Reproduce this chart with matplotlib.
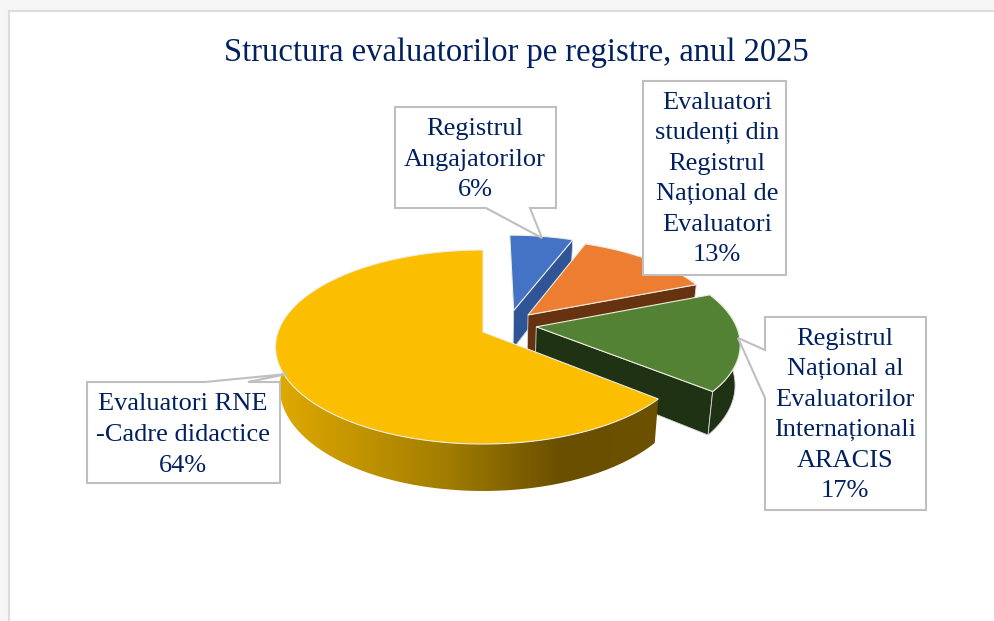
import numpy as np
import matplotlib
matplotlib.use('Agg')
import matplotlib.pyplot as plt
from matplotlib.colors import LinearSegmentedColormap
from matplotlib.patches import Polygon, Rectangle

plt.rcParams['font.family'] = ['Liberation Serif', 'DejaVu Serif']

title = 'Structura evaluatorilor pe registre, anul 2025'
# clockwise from 12 o'clock, like the source pie
names = ['Registrul\nAngajatorilor',
         'Evaluatori\nstudenți din\nRegistrul\nNațional de\nEvaluatori',
         'Registrul\nNațional al\nEvaluatorilor\nInternaționali\nARACIS',
         'Evaluatori RNE\n-Cadre didactice']
values = [6, 13, 17, 64]

top_colors = ['#4472C4', '#ED7D31', '#548235', '#FBBE00']
wall_colors = ['#2F5597', '#663210', '#203214', None]
explode = [(0.155, 0.235), (0.226, 0.185), (0.262, 0.055), (0.0, 0.0)]
radius = [0.98, 0.97, 0.985, 1.0]

NAVY = '#002060'
BOX = '#BFBFBF'

# projection of the tilted pie, in picture pixels
cx, cy = 483, 332
rx, ry = 205, 94.7
persp = 0.1547
depth = 39.7


def project(u, v, bottom=False):
    s = 1 / (1 + persp * v)
    x = cx + rx * u * s
    y = cy - ry * v * s
    if bottom:
        x = cx + (x - cx) * 0.98
        y = y + depth * s
    return np.column_stack([x, y])


fig = plt.figure(figsize=(9.95, 6.21), dpi=100, facecolor='#F6F6F6')
ax = fig.add_axes([0, 0, 1, 1])
ax.set_axis_off()

ax.add_patch(Rectangle((9, 11), 1000, 700, fc='white', ec='#DCDCDC', lw=1.5, zorder=0))

ends = 90 - np.cumsum(values) * 3.6
starts = np.concatenate([[90], ends[:-1]])

z = 1
for i in range(len(values)):
    u0, v0 = explode[i]
    theta = np.radians(np.linspace(starts[i], ends[i], 90))
    u = u0 + radius[i] * np.cos(theta)
    v = v0 + radius[i] * np.sin(theta)
    rim_top = project(u, v)
    rim_bot = project(u, v, bottom=True)
    apex_top = project(np.array([u0]), np.array([v0]))
    apex_bot = project(np.array([u0]), np.array([v0]), bottom=True)
    front = np.sin(theta) < 0.25

    if wall_colors[i] is None:
        # yellow slice has a lit side wall
        ramp = LinearSegmentedColormap.from_list('side', [(0, '#DFA900'), (0.45, '#A07C00'),
                                                          (0.74, '#6A4F00'), (1, '#6C5100')])
        outer = Polygon(np.vstack([rim_top, rim_bot[::-1]]), transform=ax.transData, fc='none', ec='none')
        ax.add_patch(outer)
        im = ax.imshow(np.linspace(0, 1, 256).reshape(1, -1), cmap=ramp, aspect='auto',
                       extent=(278, 660, 500, 350), zorder=z)
        im.set_clip_path(outer)
    else:
        # cut wall from the apex to the last rim point, then the front of the outer wall
        cut = np.vstack([apex_top, rim_top[-1:], rim_bot[-1:], apex_bot])
        ax.add_patch(Polygon(cut, fc=wall_colors[i], ec='#D9D9D9', lw=0.6, zorder=z))
        if front.any():
            ax.add_patch(Polygon(np.vstack([rim_top[front], rim_bot[front][::-1]]), fc=wall_colors[i],
                                 ec='#D9D9D9', lw=0.6, zorder=z))

    ax.add_patch(Polygon(np.vstack([apex_top, rim_top]), fc=top_colors[i], ec='#EDEDE0', lw=0.8, zorder=z + 0.5))
    z += 1

# callout boxes with their pointers, drawn over the pie
boxes = [
    [(395, 107), (556, 107), (556, 208), (530, 208), (542, 238), (486, 208), (395, 208)],
    [(643, 81), (786, 81), (786, 275), (643, 275)],
    [(765, 317), (926, 317), (926, 510), (765, 510), (765, 398), (738, 338), (765, 350)],
    [(87, 382), (205, 382), (287, 374), (248, 382), (280, 382), (280, 483), (87, 483)],
]
text_pos = [(475, 160), (717, 179), (845, 415), (183, 435)]

for box, (tx, ty), name, val in zip(boxes, text_pos, names, values):
    ax.add_patch(Polygon(box, fc='white', ec=BOX, lw=1.5, joinstyle='miter', zorder=10))
    ax.text(tx, ty, f'{name}\n{val}%', ha='center', va='center', color=NAVY, fontsize=19,
            linespacing=1.5, zorder=11)

ax.text(516, 53, title, ha='center', va='center', color=NAVY, fontsize=23.5, zorder=11)

ax.set_xlim(0, 995)
ax.set_ylim(621, 0)

fig.savefig('out.png', dpi=100, facecolor=fig.get_facecolor())
